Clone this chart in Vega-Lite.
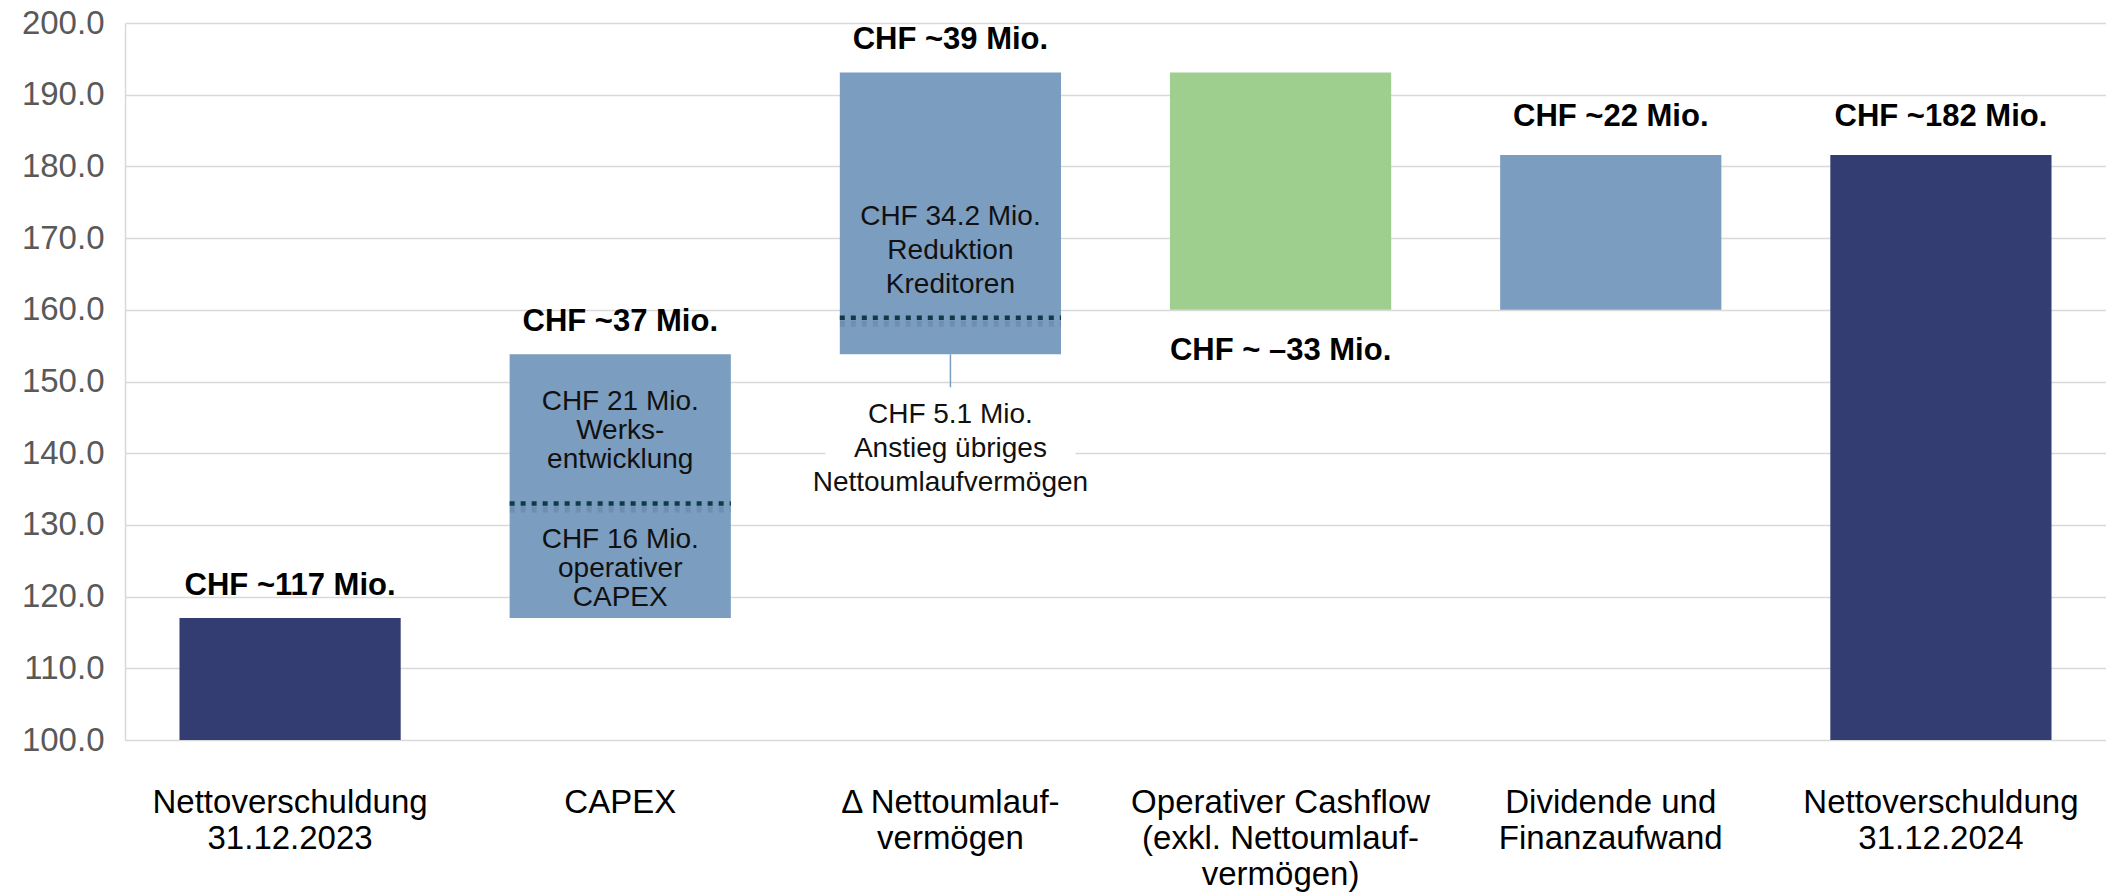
{
  "$schema": "https://vega.github.io/schema/vega-lite/v6.json",
  "width": 1981,
  "height": 717,
  "autosize": {"type": "none"},
  "padding": {"left": 125, "top": 23, "right": 0, "bottom": 152},
  "background": "white",
  "config": {"view": {"stroke": null}, "font": "Liberation Sans"},
  "datasets": {
    "bars": [
      {"cat": "Nettoverschuldung|31.12.2023", "start": 0, "end": 117.0, "kind": "total"},
      {"cat": "CAPEX", "start": 117.0, "end": 153.8, "kind": "delta"},
      {"cat": "Δ Nettoumlauf-|vermögen", "start": 153.8, "end": 193.1, "kind": "delta"},
      {"cat": "Operativer Cashflow|(exkl. Nettoumlauf-|vermögen)", "start": 193.1, "end": 160.0, "kind": "cf"},
      {"cat": "Dividende und|Finanzaufwand", "start": 160.0, "end": 181.6, "kind": "delta"},
      {"cat": "Nettoverschuldung|31.12.2024", "start": 0, "end": 181.6, "kind": "total"}
    ],
    "labels": [
      {"cat": "Nettoverschuldung|31.12.2023", "v": 117.0, "t": "CHF ~117 Mio.", "pos": "above"},
      {"cat": "CAPEX", "v": 153.8, "t": "CHF ~37 Mio.", "pos": "above"},
      {"cat": "Δ Nettoumlauf-|vermögen", "v": 193.1, "t": "CHF ~39 Mio.", "pos": "above"},
      {"cat": "Operativer Cashflow|(exkl. Nettoumlauf-|vermögen)", "v": 160.0, "t": "CHF ~ –33 Mio.", "pos": "below"},
      {"cat": "Dividende und|Finanzaufwand", "v": 181.6, "t": "CHF ~22 Mio.", "pos": "above2"},
      {"cat": "Nettoverschuldung|31.12.2024", "v": 181.6, "t": "CHF ~182 Mio.", "pos": "above2"}
    ],
    "splits": [
      {"cat": "CAPEX", "v": 133.0},
      {"cat": "Δ Nettoumlauf-|vermögen", "v": 158.9}
    ],
    "connector": [
      {"cat": "Δ Nettoumlauf-|vermögen", "v": 153.8, "v2": 149.2}
    ],
    "box": [
      {"cat": "Δ Nettoumlauf-|vermögen", "v": 137.5, "v2": 142.5}
    ],
    "notes": [
      {"cat": "CAPEX", "v": 147.1, "t": "CHF 21 Mio.|Werks-|entwicklung", "grp": "capex"},
      {"cat": "CAPEX", "v": 127.9, "t": "CHF 16 Mio.|operativer|CAPEX", "grp": "capex"},
      {"cat": "Δ Nettoumlauf-|vermögen", "v": 172.9, "t": "CHF 34.2 Mio.|Reduktion|Kreditoren", "grp": "nuv"},
      {"cat": "Δ Nettoumlauf-|vermögen", "v": 145.3, "t": "CHF 5.1 Mio.|Anstieg übriges|Nettoumlaufvermögen", "grp": "nuv"}
    ]
  },
  "encoding": {
    "x": {
      "field": "cat",
      "type": "nominal",
      "scale": {
        "domain": [
          "Nettoverschuldung|31.12.2023",
          "CAPEX",
          "Δ Nettoumlauf-|vermögen",
          "Operativer Cashflow|(exkl. Nettoumlauf-|vermögen)",
          "Dividende und|Finanzaufwand",
          "Nettoverschuldung|31.12.2024"
        ],
        "paddingInner": 0.33,
        "paddingOuter": 0.165
      },
      "axis": {
        "title": null,
        "labelExpr": "split(datum.label, '|')",
        "labelAngle": 0,
        "labelFontSize": 33,
        "labelColor": "#000000",
        "labelLineHeight": 36,
        "labelPadding": 46,
        "labelLimit": 0,
        "labelOverlap": false,
        "ticks": false,
        "tickSize": 0,
        "domain": false,
        "grid": false
      }
    }
  },
  "layer": [
    {
      "data": {"name": "bars"},
      "mark": {"type": "bar", "clip": true},
      "encoding": {
        "y": {
          "field": "end",
          "type": "quantitative",
          "scale": {"domain": [100, 200], "nice": false, "zero": false},
          "axis": {
            "title": null,
            "values": [100, 110, 120, 130, 140, 150, 160, 170, 180, 190, 200],
            "format": ".1f",
            "labelFontSize": 33,
            "labelColor": "#595959",
            "labelPadding": 21,
            "ticks": false,
            "tickSize": 0,
            "domainColor": "#d9d9d9",
            "domainWidth": 1.5,
            "gridColor": "#d9d9d9",
            "gridWidth": 1.5
          }
        },
        "y2": {"field": "start"},
        "color": {
          "field": "kind",
          "type": "nominal",
          "scale": {"domain": ["total", "delta", "cf"], "range": ["#333d72", "#7b9dc0", "#9fcf8e"]},
          "legend": null
        }
      }
    },
    {
      "data": {"name": "splits"},
      "mark": {"type": "rule", "color": "#44546a", "opacity": 0.18, "strokeWidth": 6, "strokeDash": [5, 6], "yOffset": 6},
      "encoding": {
        "x": {"field": "cat", "type": "nominal", "bandPosition": 0},
        "x2": {"field": "cat", "bandPosition": 1},
        "y": {"field": "v", "type": "quantitative"}
      }
    },
    {
      "data": {"name": "splits"},
      "mark": {"type": "rule", "color": "#0e3b47", "strokeWidth": 4.5, "strokeDash": [5, 6]},
      "encoding": {
        "x": {"field": "cat", "type": "nominal", "bandPosition": 0},
        "x2": {"field": "cat", "bandPosition": 1},
        "y": {"field": "v", "type": "quantitative"}
      }
    },
    {
      "data": {"name": "connector"},
      "mark": {"type": "rule", "color": "#7b9dc0", "strokeWidth": 1.5},
      "encoding": {
        "y": {"field": "v", "type": "quantitative"},
        "y2": {"field": "v2"}
      }
    },
    {
      "data": {"name": "box"},
      "mark": {"type": "bar", "color": "white", "width": 250},
      "encoding": {
        "y": {"field": "v", "type": "quantitative"},
        "y2": {"field": "v2"}
      }
    },
    {
      "data": {"name": "labels"},
      "transform": [{"filter": "datum.pos === 'above'"}],
      "mark": {"type": "text", "fontSize": 31, "fontWeight": "bold", "color": "#000000", "align": "center", "baseline": "alphabetic", "dy": -23},
      "encoding": {
        "y": {"field": "v", "type": "quantitative"},
        "text": {"field": "t", "type": "nominal"}
      }
    },
    {
      "data": {"name": "labels"},
      "transform": [{"filter": "datum.pos === 'above2'"}],
      "mark": {"type": "text", "fontSize": 31, "fontWeight": "bold", "color": "#000000", "align": "center", "baseline": "alphabetic", "dy": -29},
      "encoding": {
        "y": {"field": "v", "type": "quantitative"},
        "text": {"field": "t", "type": "nominal"}
      }
    },
    {
      "data": {"name": "labels"},
      "transform": [{"filter": "datum.pos === 'below'"}],
      "mark": {"type": "text", "fontSize": 31, "fontWeight": "bold", "color": "#000000", "align": "center", "baseline": "alphabetic", "dy": 50},
      "encoding": {
        "y": {"field": "v", "type": "quantitative"},
        "text": {"field": "t", "type": "nominal"}
      }
    },
    {
      "data": {"name": "notes"},
      "transform": [{"filter": "datum.grp === 'capex'"}],
      "mark": {"type": "text", "fontSize": 28, "color": "#111111", "align": "center", "baseline": "middle", "lineBreak": "|", "lineHeight": 29},
      "encoding": {
        "y": {"field": "v", "type": "quantitative"},
        "text": {"field": "t", "type": "nominal"}
      }
    },
    {
      "data": {"name": "notes"},
      "transform": [{"filter": "datum.grp === 'nuv'"}],
      "mark": {"type": "text", "fontSize": 28, "color": "#111111", "align": "center", "baseline": "middle", "lineBreak": "|", "lineHeight": 34},
      "encoding": {
        "y": {"field": "v", "type": "quantitative"},
        "text": {"field": "t", "type": "nominal"}
      }
    }
  ]
}
